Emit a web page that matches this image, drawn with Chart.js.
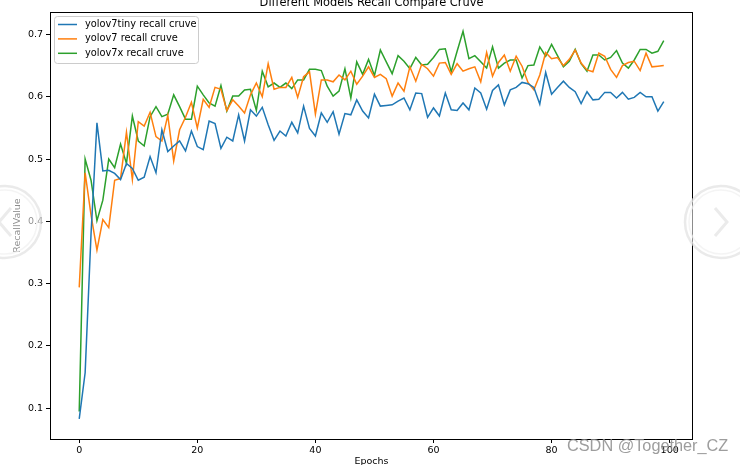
<!DOCTYPE html>
<html lang="en">
<head>
  <meta charset="UTF-8">
  <title>Different Models Recall Compare Cruve</title>
  <script src="https://cdn.jsdelivr.net/npm/chart.js"></script>
  <style>
    html, body {
      margin: 0;
      padding: 0;
      background: #fff;
      overflow: hidden;
    }
    canvas {
      display: block;
    }
  </style>
</head>
<body>
  <canvas id="recallChart" width="740" height="465"></canvas>

  <script>
    const epochs = [
      0, 1, 2, 3, 4, 5, 6, 7, 8, 9, 10, 11, 12, 13, 14, 15, 16, 17, 18, 19,
      20, 21, 22, 23, 24, 25, 26, 27, 28, 29, 30, 31, 32, 33, 34, 35, 36, 37, 38, 39,
      40, 41, 42, 43, 44, 45, 46, 47, 48, 49, 50, 51, 52, 53, 54, 55, 56, 57, 58, 59,
      60, 61, 62, 63, 64, 65, 66, 67, 68, 69, 70, 71, 72, 73, 74, 75, 76, 77, 78, 79,
      80, 81, 82, 83, 84, 85, 86, 87, 88, 89, 90, 91, 92, 93, 94, 95, 96, 97, 98, 99
    ];

    const yolov7tiny = [
      0.083, 0.157, 0.380, 0.558, 0.481, 0.482, 0.477, 0.467, 0.493, 0.485,
      0.466, 0.471, 0.504, 0.478, 0.547, 0.512, 0.521, 0.529, 0.513, 0.545,
      0.520, 0.515, 0.561, 0.557, 0.517, 0.535, 0.529, 0.571, 0.529, 0.579,
      0.569, 0.583, 0.555, 0.530, 0.545, 0.537, 0.559, 0.542, 0.585, 0.549,
      0.537, 0.574, 0.559, 0.576, 0.540, 0.573, 0.571, 0.595, 0.577, 0.566,
      0.604, 0.585, 0.586, 0.587, 0.593, 0.598, 0.579, 0.606, 0.605, 0.567,
      0.582, 0.569, 0.606, 0.579, 0.578, 0.590, 0.579, 0.614, 0.606, 0.580,
      0.610, 0.619, 0.587, 0.611, 0.615, 0.623, 0.621, 0.615, 0.588, 0.639,
      0.604, 0.615, 0.625, 0.615, 0.608, 0.589, 0.608, 0.595, 0.596, 0.607,
      0.607, 0.598, 0.607, 0.596, 0.599, 0.607, 0.600, 0.600, 0.577, 0.592
    ];

    const yolov7 = [
      0.294, 0.478, 0.410, 0.354, 0.403, 0.390, 0.466, 0.469, 0.543, 0.467,
      0.560, 0.553, 0.575, 0.536, 0.529, 0.570, 0.497, 0.547, 0.567, 0.591,
      0.550, 0.596, 0.583, 0.615, 0.612, 0.578, 0.595, 0.585, 0.574, 0.603,
      0.622, 0.600, 0.653, 0.612, 0.615, 0.615, 0.631, 0.599, 0.632, 0.640,
      0.572, 0.627, 0.627, 0.624, 0.635, 0.627, 0.641, 0.620, 0.633, 0.648,
      0.631, 0.636, 0.629, 0.601, 0.622, 0.609, 0.648, 0.625, 0.652, 0.645,
      0.633, 0.654, 0.655, 0.636, 0.653, 0.641, 0.645, 0.648, 0.624, 0.671,
      0.633, 0.655, 0.667, 0.641, 0.665, 0.649, 0.623, 0.611, 0.635, 0.671,
      0.661, 0.663, 0.650, 0.660, 0.675, 0.654, 0.643, 0.640, 0.670, 0.665,
      0.644, 0.631, 0.650, 0.655, 0.657, 0.642, 0.670, 0.648, 0.649, 0.650
    ];

    const yolov7x = [
      0.095, 0.500, 0.466, 0.401, 0.434, 0.500, 0.486, 0.524, 0.493, 0.569,
      0.529, 0.521, 0.568, 0.584, 0.568, 0.572, 0.603, 0.584, 0.564, 0.564,
      0.617, 0.603, 0.590, 0.585, 0.618, 0.577, 0.601, 0.601, 0.611, 0.612,
      0.578, 0.641, 0.616, 0.622, 0.615, 0.622, 0.613, 0.627, 0.627, 0.644,
      0.644, 0.642, 0.617, 0.601, 0.609, 0.645, 0.598, 0.656, 0.636, 0.660,
      0.634, 0.675, 0.656, 0.637, 0.666, 0.657, 0.645, 0.663, 0.651, 0.652,
      0.663, 0.676, 0.677, 0.640, 0.673, 0.705, 0.661, 0.666, 0.656, 0.646,
      0.680, 0.646, 0.654, 0.659, 0.659, 0.630, 0.650, 0.651, 0.680, 0.665,
      0.684, 0.666, 0.648, 0.657, 0.676, 0.653, 0.641, 0.667, 0.667, 0.659,
      0.663, 0.674, 0.654, 0.646, 0.659, 0.676, 0.676, 0.670, 0.673, 0.690
    ];

    const seriesLabels = ['yolov7tiny recall cruve', 'yolov7 recall cruve', 'yolov7x recall cruve'];
    const xTicks = [0, 20, 40, 60, 80, 100];
    const yTicks = [0.1, 0.2, 0.3, 0.4, 0.5, 0.6, 0.7];

    const FONT = '"DejaVu Sans", sans-serif';
    const colors = ['#1f77b4', '#ff7f0e', '#2ca02c'];

    function toPoints(values) {
      return values.map((v, i) => ({ x: epochs[i], y: v }));
    }

    // title, axis labels, frame, legend, watermark drawn by hand (matplotlib look)
    const decorations = {
      id: 'decorations',
      afterDraw(chart) {
        const ctx = chart.ctx;
        const a = chart.chartArea;
        ctx.save();

        // axes frame
        ctx.strokeStyle = '#000';
        ctx.lineWidth = 1;
        ctx.strokeRect(a.left + 0.5, a.top + 0.5, a.right - a.left - 1, a.bottom - a.top);

        // title
        ctx.fillStyle = '#000';
        ctx.font = '11.4px ' + FONT;
        ctx.textAlign = 'center';
        ctx.textBaseline = 'alphabetic';
        ctx.fillText('Different Models Recall Compare Cruve', (a.left + a.right) / 2, 6);

        // x label
        ctx.font = '9.5px ' + FONT;
        ctx.textBaseline = 'top';
        ctx.fillText('Epochs', (a.left + a.right) / 2, 457);

        // y label
        ctx.save();
        ctx.translate(18, (a.top + a.bottom) / 2);
        ctx.rotate(-Math.PI / 2);
        ctx.textBaseline = 'middle';
        ctx.fillText('RecallValue', 0, 0);
        ctx.restore();

        // legend
        const lx = 54, ly = 16, lw = 144, lh = 47;
        ctx.beginPath();
        ctx.roundRect(lx + 0.5, ly + 0.5, lw, lh, 3);
        ctx.fillStyle = 'rgba(255,255,255,0.8)';
        ctx.fill();
        ctx.strokeStyle = '#cccccc';
        ctx.lineWidth = 1;
        ctx.stroke();
        ctx.font = '9.8px ' + FONT;
        ctx.textAlign = 'left';
        ctx.textBaseline = 'middle';
        chart.data.datasets.forEach((ds, i) => {
          const y = 24.5 + i * 14.4;
          ctx.strokeStyle = ds.borderColor;
          ctx.lineWidth = 1.5;
          ctx.beginPath();
          ctx.moveTo(58, y);
          ctx.lineTo(77, y);
          ctx.stroke();
          ctx.fillStyle = '#000';
          ctx.fillText(ds.label, 85, y);
        });

        // viewer arrows at the sides (faint)
        [[5, 222, '<'], [721, 222, '>']].forEach(([cx, cy, dir]) => {
          ctx.beginPath();
          ctx.arc(cx, cy, 36, 0, Math.PI * 2);
          ctx.fillStyle = 'rgba(255,255,255,0.55)';
          ctx.fill();
          ctx.strokeStyle = 'rgba(225,225,225,0.7)';
          ctx.lineWidth = 2.5;
          ctx.stroke();
          ctx.beginPath();
          ctx.arc(cx, cy, 32, 0, Math.PI * 2);
          ctx.strokeStyle = 'rgba(240,240,240,0.7)';
          ctx.lineWidth = 1.5;
          ctx.stroke();
          ctx.beginPath();
          const s = dir === '<' ? 1 : -1;
          ctx.moveTo(cx + 6 * s, cy - 14);
          ctx.lineTo(cx - 6 * s, cy);
          ctx.lineTo(cx + 6 * s, cy + 14);
          ctx.strokeStyle = 'rgba(230,230,230,0.8)';
          ctx.lineWidth = 3;
          ctx.stroke();
        });

        // watermark
        ctx.font = '16.3px "Liberation Sans", sans-serif';
        ctx.textAlign = 'left';
        ctx.textBaseline = 'middle';
        ctx.fillStyle = 'rgba(140,140,140,0.85)';
        ctx.fillText('CSDN @Together_CZ', 567, 447);

        ctx.restore();
      }
    };

    new Chart(document.getElementById('recallChart'), {
      type: 'line',
      data: {
        datasets: [
          { label: seriesLabels[0], data: toPoints(yolov7tiny), borderColor: colors[0] },
          { label: seriesLabels[1], data: toPoints(yolov7), borderColor: colors[1] },
          { label: seriesLabels[2], data: toPoints(yolov7x), borderColor: colors[2] }
        ].map(ds => Object.assign(ds, {
          borderWidth: 1.5,
          pointRadius: 0,
          tension: 0,
          fill: false
        }))
      },
      options: {
        responsive: false,
        animation: false,
        devicePixelRatio: 1,
        layout: { padding: { left: 0, right: 47, top: 12, bottom: 0 } },
        plugins: {
          legend: { display: false },
          title: { display: false },
          tooltip: { enabled: false }
        },
        scales: {
          x: {
            type: 'linear',
            min: -4.95,
            max: 103.95,
            afterBuildTicks: s => { s.ticks = xTicks.map(v => ({ value: v })); },
            afterFit: s => { s.height = 26; },
            border: { display: false },
            grid: { drawOnChartArea: false, drawTicks: true, tickLength: 4, color: '#000', lineWidth: 1 },
            ticks: { color: '#000', font: { family: FONT, size: 9.5 }, padding: 2, maxRotation: 0 }
          },
          y: {
            type: 'linear',
            min: 0.0507,
            max: 0.736,
            afterBuildTicks: s => { s.ticks = yTicks.map(v => ({ value: v })); },
            afterFit: s => { s.width = 50; },
            border: { display: false },
            grid: { drawOnChartArea: false, drawTicks: true, tickLength: 4, color: '#000', lineWidth: 1 },
            ticks: {
              color: '#000',
              font: { family: FONT, size: 9.5 },
              padding: 3,
              callback: v => v.toFixed(1)
            }
          }
        }
      },
      plugins: [decorations]
    });
  </script>
</body>
</html>
